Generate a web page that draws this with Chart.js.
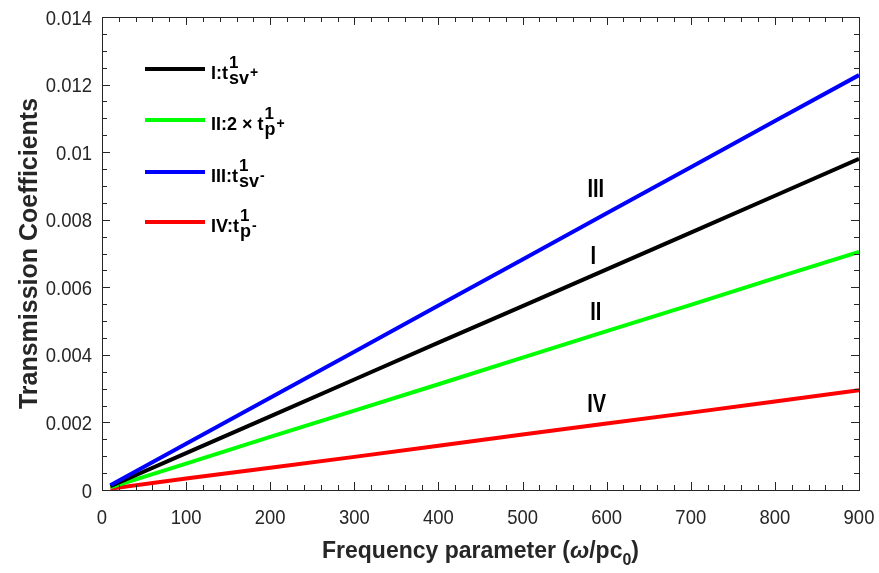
<!DOCTYPE html>
<html>
<head>
<meta charset="utf-8">
<script src="https://cdn.jsdelivr.net/npm/chart.js@4/dist/chart.umd.min.js"></script>
<style>
  html, body { margin: 0; padding: 0; background: #fff; }
  #wrap { width: 879px; height: 573px; position: relative; }
</style>
</head>
<body>
<div id="wrap"><canvas id="myChart"></canvas></div>
<script>
// frequency parameter samples
const freq = [10, 100, 200, 300, 400, 500, 600, 700, 800, 900];

// transmission coefficients
const tSvPlus = [0.00011, 0.00109, 0.00218, 0.00327, 0.00436, 0.00544, 0.00653, 0.00762, 0.00871, 0.0098];
const tPPlus2 = [0.00008, 0.00078, 0.00157, 0.00235, 0.00313, 0.00392, 0.0047, 0.00548, 0.00627, 0.00705];
const tSvMinus = [0.00014, 0.00137, 0.00273, 0.00409, 0.00546, 0.00682, 0.00819, 0.00955, 0.01092, 0.01228];
const tPMinus = [0.00004, 0.00034, 0.00066, 0.00098, 0.00131, 0.00164, 0.00197, 0.00229, 0.00262, 0.00295];

const xTicks = [0, 100, 200, 300, 400, 500, 600, 700, 800, 900];
const yTicks = [0, 0.002, 0.004, 0.006, 0.008, 0.01, 0.012, 0.014];

const seriesNames = ['I', 'II', 'III', 'IV'];
const seriesColors = ['#000000', '#00ff00', '#0000ff', '#ff0000'];

const axisColor = '#262626';
const tickFont = '21px "Liberation Sans", Arial, sans-serif';
const boldFont = (px) => 'bold ' + px + 'px "Liberation Sans", Arial, sans-serif';

function toPoints(ys) {
    return freq.map((x, i) => ({ x: x, y: ys[i] }));
}

// text squeezed horizontally, the reference fonts are a bit condensed
function squeezedText(ctx, text, x, y, sx, align) {
    const w = ctx.measureText(text).width * sx;
    let left = x;
    if (align === 'center') left = x - w / 2;
    else if (align === 'right') left = x - w;
    ctx.save();
    ctx.textAlign = 'left';
    ctx.translate(left, y);
    ctx.scale(sx, 1);
    ctx.fillText(text, 0, 0);
    ctx.restore();
}

// draws the box, inward ticks, tick labels and axis titles
const frameAxes = {
    id: 'frameAxes',
    afterDraw(chart) {
        const ctx = chart.ctx;
        const xs = chart.scales.x, ys = chart.scales.y;
        const a = chart.chartArea;
        ctx.save();
        ctx.strokeStyle = axisColor;
        ctx.lineWidth = 1;
        ctx.strokeRect(a.left + 0.5, a.top + 0.5, a.right - a.left, a.bottom - a.top);

        ctx.beginPath();
        for (let v = 0; v <= 900; v += 20) {
            const px = Math.round(xs.getPixelForValue(v)) + 0.5;
            const len = v % 100 === 0 ? 8 : 5;
            ctx.moveTo(px, a.bottom); ctx.lineTo(px, a.bottom - len);
            ctx.moveTo(px, a.top); ctx.lineTo(px, a.top + len);
        }
        for (let k = 0; k <= 28; k++) {
            const v = k * 0.0005;
            const py = Math.round(ys.getPixelForValue(v)) + 0.5;
            const len = k % 4 === 0 ? 8 : 5;
            ctx.moveTo(a.left, py); ctx.lineTo(a.left + len, py);
            ctx.moveTo(a.right, py); ctx.lineTo(a.right - len, py);
        }
        ctx.stroke();

        ctx.fillStyle = axisColor;
        ctx.font = tickFont;
        ctx.textBaseline = 'alphabetic';
        xTicks.forEach(v => squeezedText(ctx, String(v), xs.getPixelForValue(v), a.bottom + 34, 0.88, 'center'));
        yTicks.forEach(v => squeezedText(ctx, String(v), a.left - 10, ys.getPixelForValue(v) + 7.5, 0.88, 'right'));

        // x title with italic omega and subscript 0
        const parts = [
            { t: 'Frequency parameter (', f: boldFont(23), dy: 0 },
            { t: '\u03c9', f: 'italic ' + boldFont(23), dy: 0 },
            { t: '/pc', f: boldFont(23), dy: 0 },
            { t: '0', f: boldFont(16), dy: 7 },
            { t: ')', f: boldFont(23), dy: 0 }
        ];
        let total = 0;
        parts.forEach(p => { ctx.font = p.f; p.w = ctx.measureText(p.t).width; total += p.w; });
        let x = (a.left + a.right) / 2 - total / 2;
        ctx.textAlign = 'left';
        parts.forEach(p => { ctx.font = p.f; ctx.fillText(p.t, x, 558 + p.dy); x += p.w; });

        ctx.translate(37, (a.top + a.bottom) / 2 - 0);
        ctx.rotate(-Math.PI / 2);
        ctx.font = boldFont(25);
        ctx.textAlign = 'center';
        ctx.fillText('Transmission Coefficients', 0, 0);
        ctx.restore();
    }
};

// roman numeral tags next to the lines
const lineTags = {
    id: 'lineTags',
    afterDatasetsDraw(chart) {
        const ctx = chart.ctx;
        const xs = chart.scales.x, ys = chart.scales.y;
        const tags = [['III', 587, 0.00887], ['I', 584, 0.00688], ['II', 587, 0.00525], ['IV', 588, 0.00252]];
        ctx.save();
        ctx.fillStyle = '#000';
        ctx.font = boldFont(25);
        ctx.textBaseline = 'middle';
        tags.forEach(t => squeezedText(ctx, t[0], xs.getPixelForValue(t[1]), ys.getPixelForValue(t[2]), 0.8, 'center'));
        ctx.restore();
    }
};

// legend with super/subscripts
const texLegend = {
    id: 'texLegend',
    afterDraw(chart) {
        const ctx = chart.ctx;
        const rows = [
            { main: 'I:t', sup: '1', sub: 'sv', sign: '+' },
            { main: 'II:2 \u00d7 t', sup: '1', sub: 'p', sign: '+' },
            { main: 'III:t', sup: '1', sub: 'sv', sign: '-' },
            { main: 'IV:t', sup: '1', sub: 'p', sign: '-' }
        ];
        const rowY = [69, 120, 172, 222];
        ctx.save();
        rows.forEach((r, i) => {
            const y = rowY[i];
            ctx.strokeStyle = seriesColors[i];
            ctx.lineWidth = 4;
            ctx.beginPath();
            ctx.moveTo(145, y); ctx.lineTo(205, y);
            ctx.stroke();

            ctx.fillStyle = '#000';
            ctx.textAlign = 'left';
            ctx.textBaseline = 'alphabetic';
            let x = 211;
            const base = y + 10;
            ctx.font = boldFont(18);
            ctx.fillText(r.main, x, base);
            x += ctx.measureText(r.main).width + 1;
            ctx.font = boldFont(17);
            ctx.fillText(r.sup, x, base - 11);
            ctx.font = boldFont(18);
            ctx.fillText(r.sub, x, base + 5);
            x += ctx.measureText(r.sub).width + 1;
            ctx.font = boldFont(14);
            ctx.fillText(r.sign, x, base - 2);
        });
        ctx.restore();
    }
};

const datasets = [tSvPlus, tPPlus2, tSvMinus, tPMinus].map((ys, i) => ({
    label: seriesNames[i],
    data: toPoints(ys),
    borderColor: seriesColors[i],
    backgroundColor: seriesColors[i],
    borderWidth: 4,
    pointRadius: 0,
    fill: false,
    tension: 0
}));

// draw order: red, green, black, blue on top
datasets[0].order = 2;
datasets[1].order = 3;
datasets[2].order = 1;
datasets[3].order = 4;

new Chart(document.getElementById('myChart'), {
    type: 'line',
    data: { datasets: datasets },
    options: {
        responsive: true,
        maintainAspectRatio: false,
        animation: false,
        layout: { padding: { left: 0, top: 17, right: 20, bottom: 0 } },
        plugins: { legend: { display: false }, tooltip: { enabled: false } },
        scales: {
            x: {
                type: 'linear',
                min: 0, max: 900,
                grid: { display: false },
                border: { display: false },
                ticks: { display: false },
                afterFit(scale) { scale.height = 83; }
            },
            y: {
                type: 'linear',
                min: 0, max: 0.014,
                grid: { display: false },
                border: { display: false },
                ticks: { display: false },
                afterFit(scale) { scale.width = 102; }
            }
        }
    },
    plugins: [frameAxes, lineTags, texLegend]
});
</script>
</body>
</html>
